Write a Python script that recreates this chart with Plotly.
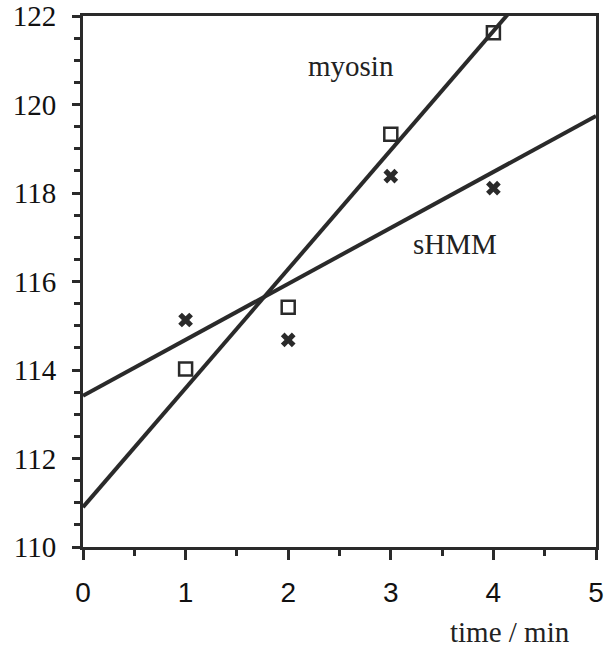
import plotly.graph_objects as go

time_min = [1, 2, 3, 4]
myosin = [114.02, 115.42, 119.33, 121.62]
shmm = [115.13, 114.68, 118.38, 118.11]

fit_x = [0, 5]
myosin_fit = [110.9, 124.35]
shmm_fit = [113.42, 119.74]

ink = "#2a2a2a"
serif = "Liberation Serif, Times New Roman, serif"
fig = go.Figure()
fig.add_trace(go.Scatter(x=fit_x, y=myosin_fit, mode="lines",
                         line=dict(color=ink, width=4), showlegend=False))
fig.add_trace(go.Scatter(x=fit_x, y=shmm_fit, mode="lines",
                         line=dict(color=ink, width=4), showlegend=False))
fig.add_trace(go.Scatter(x=time_min, y=myosin, mode="markers",
                         marker=dict(symbol="square-open", size=13, color=ink,
                                     line=dict(width=2.5)), showlegend=False))
fig.add_trace(go.Scatter(x=time_min, y=shmm, mode="markers",
                         marker=dict(symbol="x", size=13, color=ink,
                                     line=dict(width=0)), showlegend=False))

fig.add_annotation(x=2.61, y=120.87, text="myosin", showarrow=False,
                   font=dict(family=serif, size=29, color="#222"))
fig.add_annotation(x=3.63, y=116.85, text="sHMM", showarrow=False,
                   font=dict(family=serif, size=29, color="#222"))
fig.add_annotation(x=4.16, y=0, yref="paper", yanchor="middle", yshift=-85,
                   text="time / min", showarrow=False,
                   font=dict(family=serif, size=29, color="#222"))

fig.update_xaxes(range=[0, 5], tickvals=[0, 1, 2, 3, 4, 5], automargin=False,
                 ticks="outside", ticklen=10, tickwidth=3, tickcolor=ink,
                 showline=True, linewidth=3, linecolor=ink, mirror=True,
                 showgrid=False, zeroline=False, ticklabelstandoff=8,
                 tickfont=dict(family="Liberation Sans, Arial, sans-serif", size=28, color="#111"),
                 minor=dict(tickvals=[0.5, 1.5, 2.5, 3.5, 4.5], ticks="outside",
                            ticklen=6, tickwidth=3, tickcolor=ink))
fig.update_yaxes(range=[110, 122], tickvals=[110, 112, 114, 116, 118, 120, 122],
                 automargin=False,
                 ticks="outside", ticklen=8, tickwidth=3, tickcolor=ink,
                 showline=True, linewidth=3, linecolor=ink, mirror=True,
                 showgrid=False, zeroline=False, ticklabelstandoff=10,
                 tickfont=dict(family=serif, size=29, color="#111"),
                 minor=dict(dtick=0.5, ticks="outside", ticklen=6, tickwidth=3,
                            tickcolor=ink))

fig.update_layout(width=604, height=652, margin=dict(l=83, r=8, t=16, b=105),
                  plot_bgcolor="white", paper_bgcolor="white")
fig.write_html("out.html")
